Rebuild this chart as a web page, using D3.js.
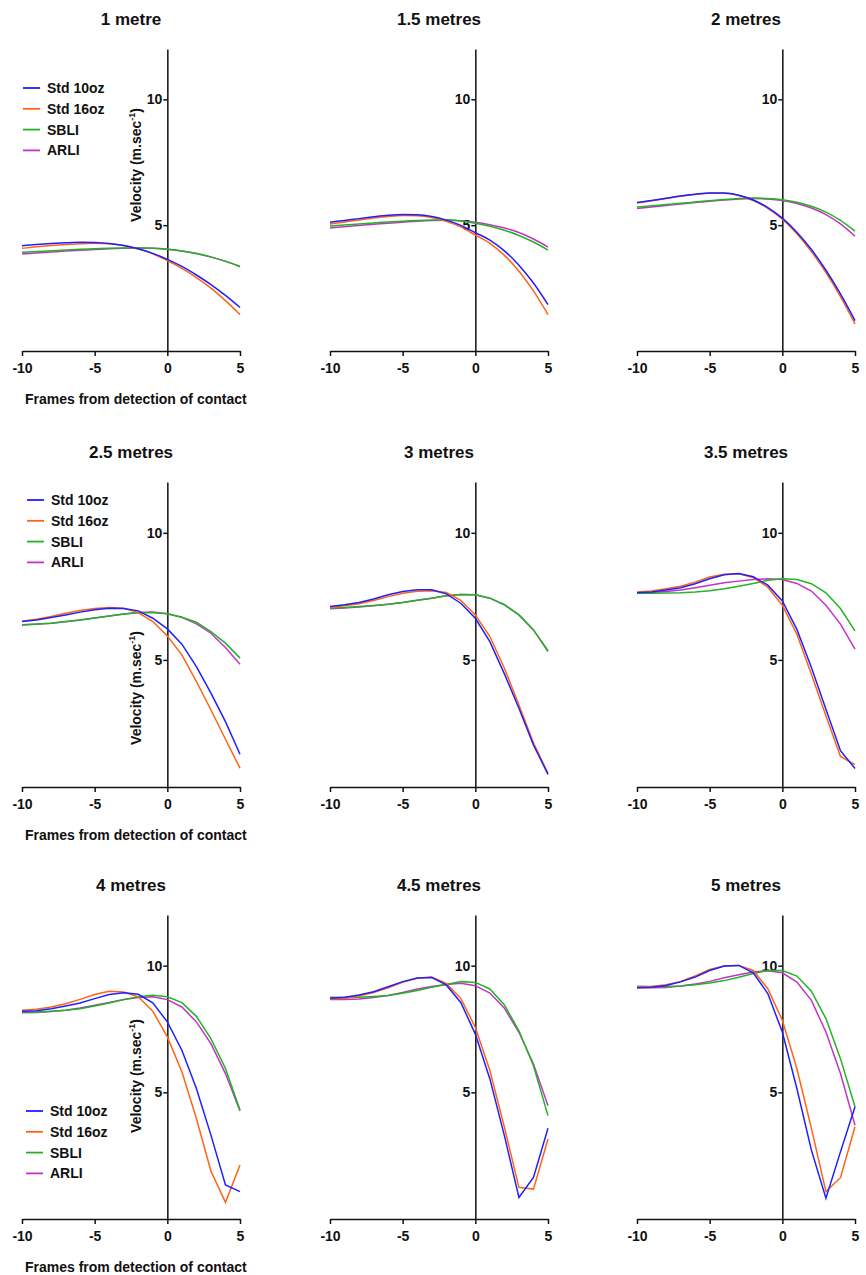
<!DOCTYPE html>
<html>
<head>
<meta charset="UTF-8">
<style>
  body { margin: 0; background: #fff; }
  svg text { font-family: "Liberation Sans", Arial, sans-serif; font-weight: bold; fill: #111; }
  .axis path, .axis line { stroke: #111; stroke-width: 1.5; }
  .axis text { font-size: 14px; }
  .series { fill: none; stroke-width: 1.5; }
  .title { font-size: 17px; }
  .label, .legend text { font-size: 14px; }
</style>
<script src="https://cdn.jsdelivr.net/npm/d3@7"></script>
</head>
<body>
<script>
var frames = [-10, -9, -8, -7, -6, -5, -4, -3, -2, -1, 0, 1, 2, 3, 4, 5];
var distances = ["1 metre", "1.5 metres", "2 metres", "2.5 metres", "3 metres",
                 "3.5 metres", "4 metres", "4.5 metres", "5 metres"];
var gloves = ["Std 10oz", "Std 16oz", "SBLI", "ARLI"];
var xTicks = [-10, -5, 0, 5];
var yTicks = [5, 10];

// velocity (m/s), one row per distance
var std10oz = [
  [4.18,4.23,4.27,4.30,4.32,4.31,4.27,4.19,4.06,3.88,3.64,3.36,3.02,2.64,2.21,1.73],
  [5.12,5.19,5.26,5.33,5.39,5.42,5.41,5.34,5.20,4.99,4.70,4.41,3.98,3.41,2.70,1.84],
  [5.90,5.98,6.07,6.16,6.23,6.28,6.28,6.19,6.00,5.70,5.28,4.72,4.03,3.21,2.27,1.21],
  [6.51,6.57,6.67,6.77,6.88,6.97,7.03,7.02,6.93,6.64,6.22,5.62,4.74,3.69,2.57,1.29],
  [7.10,7.17,7.26,7.40,7.56,7.69,7.76,7.76,7.60,7.23,6.64,5.72,4.45,3.10,1.65,0.50],
  [7.64,7.67,7.75,7.84,8.00,8.19,8.35,8.40,8.27,7.94,7.32,6.20,4.70,3.06,1.43,0.73],
  [8.20,8.22,8.30,8.41,8.53,8.70,8.86,8.93,8.87,8.53,7.78,6.66,5.15,3.31,1.34,1.08],
  [8.71,8.75,8.84,8.97,9.17,9.37,9.51,9.53,9.24,8.55,7.30,5.53,3.29,0.85,1.64,3.58],
  [9.13,9.15,9.22,9.36,9.55,9.81,9.99,10.01,9.72,8.90,7.38,5.15,2.72,0.82,2.65,4.43]
];
var std16oz = [
  [4.08,4.14,4.19,4.23,4.26,4.28,4.26,4.19,4.05,3.86,3.59,3.28,2.92,2.50,2.00,1.45],
  [5.05,5.13,5.21,5.28,5.34,5.38,5.37,5.30,5.15,4.93,4.61,4.28,3.80,3.17,2.39,1.45],
  [5.88,5.97,6.06,6.15,6.22,6.27,6.27,6.18,5.98,5.67,5.24,4.66,3.95,3.12,2.16,1.08],
  [6.52,6.60,6.71,6.84,6.94,7.02,7.06,7.03,6.86,6.51,5.94,5.20,4.15,3.03,1.88,0.74],
  [7.06,7.13,7.21,7.34,7.49,7.62,7.70,7.72,7.65,7.34,6.77,5.92,4.67,3.23,1.74,0.54],
  [7.67,7.71,7.80,7.90,8.06,8.26,8.37,8.39,8.24,7.86,7.15,6.01,4.44,2.80,1.20,0.88],
  [8.24,8.28,8.37,8.50,8.67,8.86,8.99,8.96,8.77,8.20,7.19,5.81,3.97,1.89,0.66,2.13],
  [8.68,8.71,8.80,8.94,9.13,9.34,9.50,9.55,9.30,8.71,7.56,5.86,3.62,1.25,1.18,3.16],
  [9.16,9.18,9.25,9.38,9.59,9.85,9.99,10.01,9.81,9.09,7.84,5.94,3.58,1.08,1.63,3.64]
];
var sbli = [
  [3.92,3.95,3.98,4.01,4.04,4.06,4.08,4.09,4.10,4.08,4.04,3.97,3.87,3.74,3.57,3.37],
  [4.97,5.01,5.05,5.09,5.13,5.16,5.19,5.21,5.22,5.17,5.08,4.96,4.80,4.59,4.33,4.01],
  [5.72,5.77,5.82,5.87,5.92,5.97,6.02,6.06,6.08,6.06,6.01,5.91,5.75,5.52,5.19,4.76],
  [6.38,6.41,6.44,6.51,6.57,6.65,6.73,6.81,6.86,6.86,6.82,6.68,6.48,6.11,5.66,5.07],
  [7.03,7.06,7.10,7.14,7.19,7.26,7.35,7.43,7.52,7.57,7.56,7.43,7.17,6.77,6.18,5.33],
  [7.62,7.62,7.63,7.64,7.67,7.72,7.80,7.90,8.01,8.13,8.19,8.16,8.00,7.64,7.02,6.14],
  [8.17,8.17,8.20,8.24,8.30,8.41,8.53,8.66,8.77,8.83,8.77,8.54,8.00,7.12,5.94,4.30],
  [8.75,8.74,8.75,8.78,8.82,8.91,9.02,9.15,9.26,9.37,9.34,9.08,8.45,7.43,6.05,4.08],
  [9.19,9.18,9.18,9.20,9.25,9.32,9.41,9.54,9.69,9.81,9.81,9.59,8.99,7.91,6.33,4.43]
];
var arli = [
  [3.85,3.89,3.93,3.97,4.00,4.03,4.06,4.08,4.09,4.08,4.04,3.97,3.87,3.73,3.56,3.35],
  [4.89,4.94,4.99,5.04,5.08,5.12,5.16,5.19,5.20,5.18,5.12,5.02,4.89,4.71,4.45,4.13],
  [5.66,5.72,5.78,5.84,5.90,5.95,6.00,6.04,6.06,6.04,5.98,5.86,5.68,5.42,5.05,4.56],
  [6.37,6.40,6.44,6.50,6.57,6.65,6.73,6.81,6.87,6.89,6.82,6.68,6.42,6.05,5.49,4.83],
  [7.01,7.04,7.08,7.13,7.19,7.26,7.35,7.43,7.52,7.57,7.56,7.43,7.17,6.77,6.18,5.36],
  [7.64,7.65,7.69,7.75,7.84,7.94,8.04,8.10,8.16,8.19,8.16,8.01,7.71,7.15,6.41,5.42],
  [8.14,8.15,8.19,8.24,8.33,8.44,8.55,8.66,8.74,8.77,8.66,8.37,7.78,6.92,5.74,4.26],
  [8.66,8.66,8.68,8.74,8.82,8.94,9.08,9.18,9.26,9.31,9.21,8.92,8.32,7.37,6.12,4.47],
  [9.13,9.13,9.14,9.20,9.28,9.38,9.52,9.64,9.75,9.80,9.72,9.35,8.63,7.38,5.74,3.70]
];

var colors = ["#1f1fff", "#ff6414", "#22b422", "#c234c8"];
var seriesData = [std10oz, std16oz, sbli, arli];
var drawOrder = [3, 2, 1, 0];

var width = 866, height = 1275;
var colLeft = [22, 330, 637], plotW = 218;
var rowTop = [49, 482, 915], rowBottom = [351, 787, 1219];
var legendPos = [[23, 88], [27, 500], [26, 1111]];
var yLabelMid = [165, 688, 1076];

// plain hyphen for negatives, like the original
var plain = function(d) { return String(d); };

var svg = d3.select("body").append("svg")
  .attr("width", width)
  .attr("height", height);

distances.forEach(function(dist, i) {
  var row = Math.floor(i / 3), col = i % 3;

  var x = d3.scaleLinear().domain([-10, 5]).range([colLeft[col], colLeft[col] + plotW]);
  var y = d3.scaleLinear().domain([0, 12]).range([rowBottom[row], rowTop[row]]);

  var g = svg.append("g");

  g.append("text")
    .attr("class", "title")
    .attr("x", x(-2.5))
    .attr("y", rowTop[row] - 24.5)
    .attr("text-anchor", "middle")
    .text(dist);

  g.append("g")
    .attr("class", "axis")
    .attr("transform", "translate(0," + y(0) + ")")
    .call(d3.axisBottom(x).tickValues(xTicks).tickFormat(plain)
      .tickSize(5).tickSizeOuter(0).tickPadding(7));

  g.append("g")
    .attr("class", "axis")
    .attr("transform", "translate(" + x(0) + ",0)")
    .call(d3.axisLeft(y).tickValues(yTicks).tickFormat(plain)
      .tickSize(4).tickSizeOuter(0).tickPadding(1));

  var line = d3.line()
    .x(function(d, k) { return x(frames[k]); })
    .y(function(d) { return y(d); })
    .curve(row === 0 ? d3.curveMonotoneX : d3.curveLinear);

  drawOrder.forEach(function(s) {
    g.append("path")
      .attr("class", "series")
      .attr("d", line(seriesData[s][i]))
      .attr("stroke", colors[s]);
  });

  if (col === 0) {
    g.append("text")
      .attr("class", "label")
      .attr("x", 25)
      .attr("y", y(0) + 52.5)
      .text("Frames from detection of contact");

    var yl = g.append("text")
      .attr("class", "label")
      .attr("text-anchor", "middle")
      .attr("transform", "translate(" + (x(0) - 26) + "," + yLabelMid[row] + ") rotate(-90)");
    yl.append("tspan").text("Velocity (m.sec");
    yl.append("tspan").attr("dy", -6).style("font-size", "9px").text("-1");
    yl.append("tspan").attr("dy", 6).text(")");

    var lg = g.append("g").attr("class", "legend")
      .attr("transform", "translate(" + legendPos[row][0] + "," + legendPos[row][1] + ")");
    gloves.forEach(function(name, s) {
      var item = lg.append("g").attr("transform", "translate(0," + s * 20.8 + ")");
      item.append("line")
        .attr("x1", 0).attr("x2", 17)
        .attr("stroke", colors[s]).attr("stroke-width", 1.8);
      item.append("text")
        .attr("x", 24)
        .attr("dy", "0.36em")
        .text(name);
    });
  }
});
</script>
</body>
</html>
